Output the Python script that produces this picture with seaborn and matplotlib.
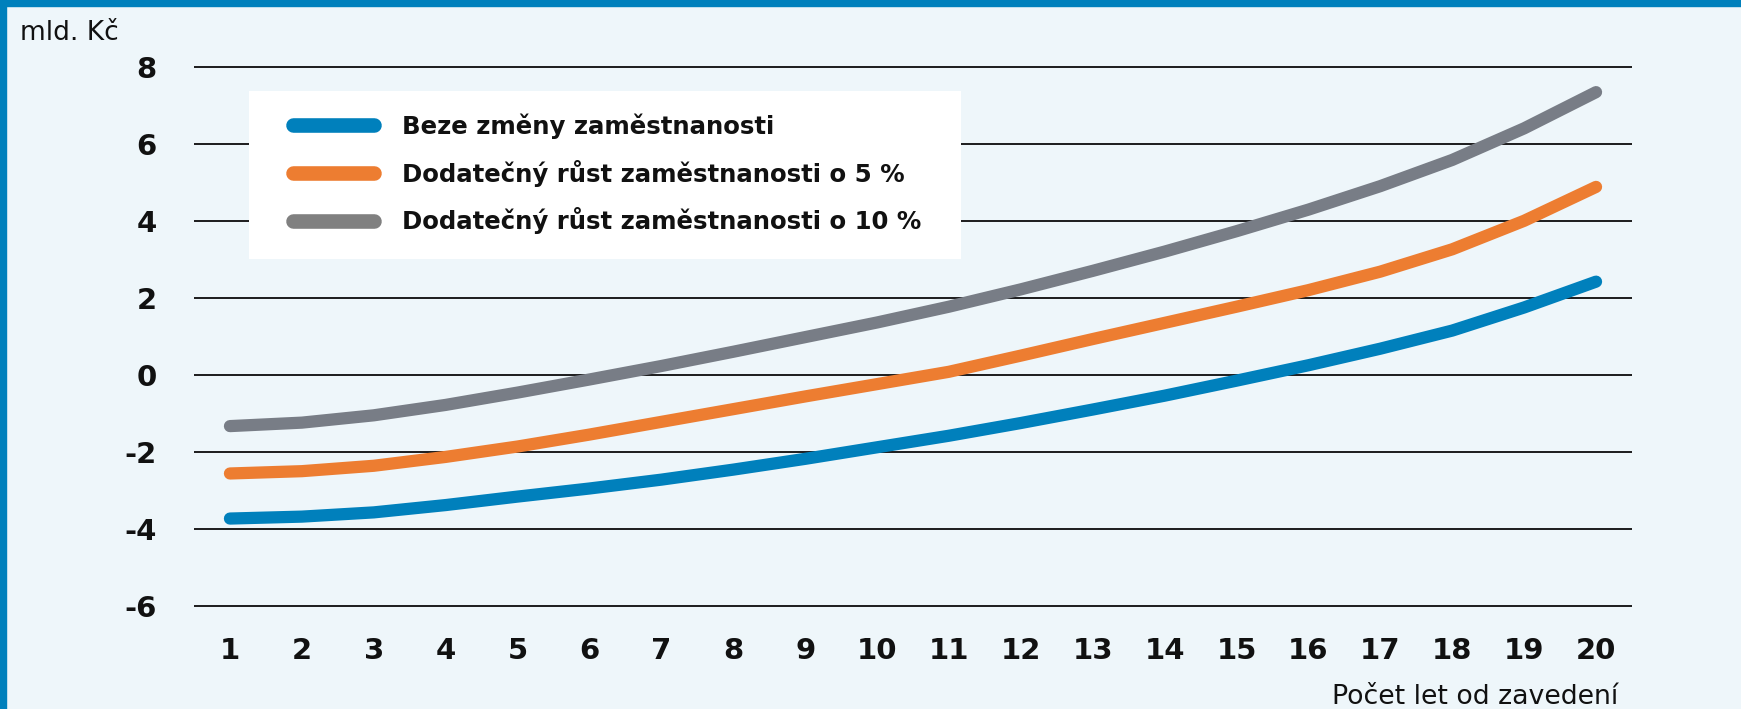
import matplotlib
matplotlib.use("Agg")
import matplotlib.pyplot as plt
import seaborn as sns
import pandas as pd
from matplotlib.lines import Line2D
from matplotlib.patches import Rectangle

# hodnoty (mld. Kč)
roky = list(range(1, 21))
beze_zmeny = [-3.73, -3.68, -3.57, -3.38, -3.16, -2.95, -2.72, -2.46, -2.18, -1.88,
              -1.58, -1.25, -0.90, -0.54, -0.15, 0.25, 0.68, 1.15, 1.75, 2.42]
rust_5 = [-2.56, -2.50, -2.36, -2.13, -1.86, -1.55, -1.22, -0.89, -0.56, -0.24,
          0.08, 0.50, 0.93, 1.35, 1.77, 2.20, 2.68, 3.26, 4.00, 4.88]
rust_10 = [-1.33, -1.24, -1.05, -0.78, -0.46, -0.12, 0.23, 0.60, 0.98, 1.36,
           1.77, 2.22, 2.70, 3.20, 3.73, 4.29, 4.90, 5.58, 6.40, 7.34]

nazvy = ["Beze změny zaměstnanosti",
         "Dodatečný růst zaměstnanosti o 5 %",
         "Dodatečný růst zaměstnanosti o 10 %"]
barvy_car = ["#0080bc", "#ed7d31", "#787d86"]
barvy_legendy = ["#0080bc", "#ed7d31", "#808080"]
y_ticks = [-6, -4, -2, 0, 2, 4, 6, 8]

df = pd.DataFrame({
    "rok": roky * 3,
    "hodnota": beze_zmeny + rust_5 + rust_10,
    "scenar": [n for n in nazvy for _ in roky],
})

bg = "#eef6fa"
sns.set_theme(style="white")
plt.rcParams["font.family"] = ["DejaVu Sans"]
plt.rcParams["axes.unicode_minus"] = False

W, H = 1741, 709
fig = plt.figure(figsize=(W / 100, H / 100), dpi=100, facecolor=bg)
ax = fig.add_axes([194 / W, (H - 621.4) / H, 1438 / W, 570.1 / H])
ax.set_facecolor(bg)

sns.lineplot(data=df, x="rok", y="hodnota", hue="scenar", palette=barvy_car,
             hue_order=nazvy, linewidth=8.8, solid_capstyle="round",
             solid_joinstyle="round", legend=False, ax=ax, zorder=3)

ax.set_xlim(0.5, 20.5)
ax.set_ylim(-6.4, 8.4)
ax.set_xticks(roky)
ax.set_yticks(y_ticks)
ax.set_xlabel("")
ax.set_ylabel("")
for s in ax.spines.values():
    s.set_visible(False)
ax.yaxis.grid(True, color="#1c1c1c", linewidth=1.4)
ax.xaxis.grid(False)
ax.set_axisbelow(True)
ax.tick_params(axis="both", length=0, labelsize=21, colors="#111111")
ax.tick_params(axis="y", pad=27)
ax.tick_params(axis="x", pad=11)
for lab in ax.get_xticklabels() + ax.get_yticklabels():
    lab.set_fontweight("bold")

# bílý podklad legendy
ax.add_patch(Rectangle((55 / 1438, (621.4 - 259) / 570.1), 712 / 1438, 168 / 570.1,
                       transform=ax.transAxes, facecolor="white",
                       edgecolor="none", zorder=4))

handles = [Line2D([0], [0], color=c, linewidth=10.5, solid_capstyle="round")
           for c in barvy_legendy]
leg = ax.legend(handles, nazvy, loc="upper left",
                bbox_to_anchor=((293 - 194) / 1438, (621.4 - 113.5) / 570.1),
                frameon=False, prop={"weight": "bold", "size": 17.6},
                handlelength=3.3, handletextpad=1.15, labelspacing=0.84,
                borderpad=0, borderaxespad=0, labelcolor="#111111")
leg.set_zorder(5)

fig.text(20 / W, 1 - 40 / H, "mld. Kč", fontsize=19, color="#111111",
         ha="left", va="baseline")
fig.text(1618 / W, 1 - 704 / H, "Počet let od zavedení", fontsize=19.3,
         color="#111111", ha="right", va="baseline")

# modrý okraj nahoře a vlevo
fig.patches.append(Rectangle((0, 1 - 6 / H), 1, 6 / H, transform=fig.transFigure,
                             color="#0080bc", zorder=10))
fig.patches.append(Rectangle((0, 0), 6 / W, 1, transform=fig.transFigure,
                             color="#0080bc", zorder=10))

fig.savefig("out.png", dpi=100, facecolor=bg)
